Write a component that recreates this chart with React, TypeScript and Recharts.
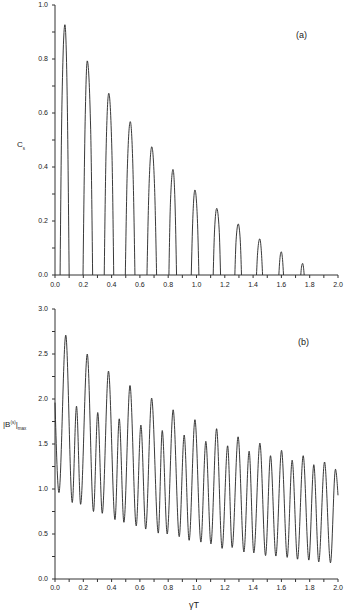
import { LineChart, Line, XAxis, YAxis } from "recharts";

// panel (a): C_s vs gamma*T, each arch read as base / shoulder / apex / shoulder / base,
// null marks the flat stretch on the axis between arches
const csX = [
  0.036, 0.049, 0.07, 0.087, 0.1, 0.1,
  0.198, 0.212, 0.228, 0.252, 0.266, 0.266,
  0.348, 0.361, 0.38, 0.402, 0.415, 0.415,
  0.497, 0.511, 0.532, 0.551, 0.565, 0.565,
  0.65, 0.664, 0.684, 0.704, 0.718, 0.718,
  0.805, 0.816, 0.834, 0.848, 0.859, 0.859,
  0.963, 0.974, 0.989, 1.006, 1.017, 1.017,
  1.118, 1.128, 1.143, 1.16, 1.17, 1.17,
  1.271, 1.28, 1.295, 1.309, 1.318, 1.318,
  1.424, 1.433, 1.447, 1.458, 1.467, 1.467,
  1.582, 1.589, 1.599, 1.608, 1.615, 1.615,
  1.737, 1.742, 1.75, 1.756, 1.761,
];
const csY = [
  0, 0.63, 0.927, 0.63, 0, null,
  0, 0.54, 0.793, 0.54, 0, null,
  0, 0.46, 0.673, 0.46, 0, null,
  0, 0.39, 0.568, 0.39, 0, null,
  0, 0.32, 0.475, 0.32, 0, null,
  0, 0.27, 0.391, 0.27, 0, null,
  0, 0.21, 0.315, 0.21, 0, null,
  0, 0.17, 0.247, 0.17, 0, null,
  0, 0.13, 0.189, 0.13, 0, null,
  0, 0.09, 0.134, 0.09, 0, null,
  0, 0.058, 0.086, 0.058, 0, null,
  0, 0.029, 0.043, 0.029, 0,
];

// panel (b): |B|max vs gamma*T, minima and maxima in order
const bX = [
  0, 0.028, 0.076, 0.122, 0.152, 0.181, 0.228, 0.272, 0.302, 0.334,
  0.378, 0.424, 0.454, 0.487, 0.53, 0.574, 0.607, 0.641, 0.683, 0.73,
  0.758, 0.793, 0.835, 0.878, 0.913, 0.948, 0.989, 1.031, 1.066, 1.102,
  1.142, 1.181, 1.22, 1.252, 1.294, 1.335, 1.372, 1.405, 1.448, 1.488,
  1.523, 1.561, 1.601, 1.641, 1.676, 1.714, 1.754, 1.794, 1.829, 1.864,
  1.905, 1.947, 1.982, 2.0,
];
const bY = [
  1.96, 0.96, 2.71, 0.85, 1.92, 0.83, 2.5, 0.75, 1.85, 0.73,
  2.31, 0.66, 1.78, 0.63, 2.15, 0.59, 1.71, 0.555, 2.01, 0.51,
  1.65, 0.5, 1.88, 0.47, 1.6, 0.43, 1.77, 0.41, 1.53, 0.39,
  1.67, 0.34, 1.48, 0.35, 1.58, 0.3, 1.42, 0.29, 1.51, 0.26,
  1.37, 0.255, 1.43, 0.24, 1.32, 0.22, 1.37, 0.21, 1.27, 0.19,
  1.3, 0.18, 1.22, 0.93,
];

const xTicks = [0, 0.1, 0.2, 0.3, 0.4, 0.5, 0.6, 0.7, 0.8, 0.9, 1.0, 1.1, 1.2, 1.3, 1.4, 1.5, 1.6, 1.7, 1.8, 1.9, 2.0];
const csTicks = [0, 0.1, 0.2, 0.3, 0.4, 0.5, 0.6, 0.7, 0.8, 0.9, 1.0];
const bTicks = [0, 0.25, 0.5, 0.75, 1.0, 1.25, 1.5, 1.75, 2.0, 2.25, 2.5, 2.75, 3.0];

const csData = csX.map((x, i) => ({ x, c: csY[i] }));
const bData = bX.map((x, i) => ({ x, b: bY[i] }));

const FONT = '"Liberation Sans", Arial, sans-serif';
const AX = "#333";
const tickStyle = { fill: "#222", fontSize: 7, fontFamily: FONT };

const fmtX = (v: number) => (Math.round(v * 10) % 2 === 0 ? v.toFixed(1) : "");
const fmtC = (v: number) => (Math.round(v * 10) % 2 === 0 ? v.toFixed(1) : "");
const fmtB = (v: number) => (Math.round(v * 4) % 2 === 0 ? v.toFixed(1) : "");
const blank = () => "";

const abs = (left: number, top: number, size: number) => ({
  position: "absolute" as const,
  left,
  top,
  fontSize: size,
  lineHeight: `${size}px`,
  color: "#222",
  fontFamily: FONT,
  whiteSpace: "nowrap" as const,
});

export default function App() {
  return (
    <div style={{ position: "absolute", left: 0, top: 0, width: 346, height: 613, background: "#fff" }}>
      <div style={{ position: "absolute", left: 0, top: 0 }}>
        <LineChart width={346} height={300} data={csData} margin={{ top: 5, right: 8, bottom: 0, left: 0 }}>
          <XAxis xAxisId="b" dataKey="x" type="number" domain={[0, 2]} ticks={xTicks} interval={0}
            tickFormatter={fmtX} height={25} tickSize={3} tickMargin={4} stroke={AX} tick={tickStyle} />
          <XAxis xAxisId="t" orientation="top" dataKey="x" type="number" domain={[0, 2]} ticks={xTicks}
            interval={0} tickFormatter={blank} height={0} mirror tickSize={3} stroke={AX} />
          <YAxis yAxisId="l" type="number" domain={[0, 1]} ticks={csTicks} interval={0} tickFormatter={fmtC}
            width={55} tickSize={3} tickMargin={4} stroke={AX} tick={tickStyle} />
          <YAxis yAxisId="r" orientation="right" type="number" domain={[0, 1]} width={0} tick={false} stroke={AX} />
          <Line xAxisId="b" yAxisId="l" dataKey="c" type="monotoneX" dot={false} stroke="#222"
            strokeWidth={0.9} connectNulls={false} isAnimationActive={false} />
        </LineChart>
      </div>
      <div style={{ position: "absolute", left: 0, top: 300 }}>
        <LineChart width={346} height={313} data={bData} margin={{ top: 9, right: 8, bottom: 0, left: 0 }}>
          <XAxis xAxisId="b" dataKey="x" type="number" domain={[0, 2]} ticks={xTicks} interval={0}
            tickFormatter={fmtX} height={34} tickSize={3} tickMargin={3} stroke={AX} tick={tickStyle} />
          <XAxis xAxisId="t" orientation="top" dataKey="x" type="number" domain={[0, 2]} ticks={xTicks}
            interval={0} tickFormatter={blank} height={0} mirror tickSize={3} stroke={AX} />
          <YAxis yAxisId="l" type="number" domain={[0, 3]} ticks={bTicks} interval={0} tickFormatter={fmtB}
            width={55} tickSize={3} tickMargin={4} stroke={AX} tick={tickStyle} />
          <YAxis yAxisId="r" orientation="right" type="number" domain={[0, 3]} width={0} tick={false} stroke={AX} />
          <Line xAxisId="b" yAxisId="l" dataKey="b" type="monotoneX" dot={false} stroke="#222"
            strokeWidth={0.9} isAnimationActive={false} />
        </LineChart>
      </div>

      <div style={abs(296, 31, 9)}>(a)</div>
      <div style={abs(298, 338, 9)}>(b)</div>

      <div style={abs(17, 141, 8)}>
        C<span style={{ fontSize: 4.5, position: "relative", top: 3 }}>s</span>
      </div>
      <div style={abs(3, 421, 8)}>
        |B<span style={{ fontSize: 4.5, position: "relative", top: -3 }}>(s)</span>|
        <span style={{ fontSize: 4.5, position: "relative", top: 3 }}>max</span>
      </div>
      <div style={abs(189, 601, 9)}>γT</div>
    </div>
  );
}
